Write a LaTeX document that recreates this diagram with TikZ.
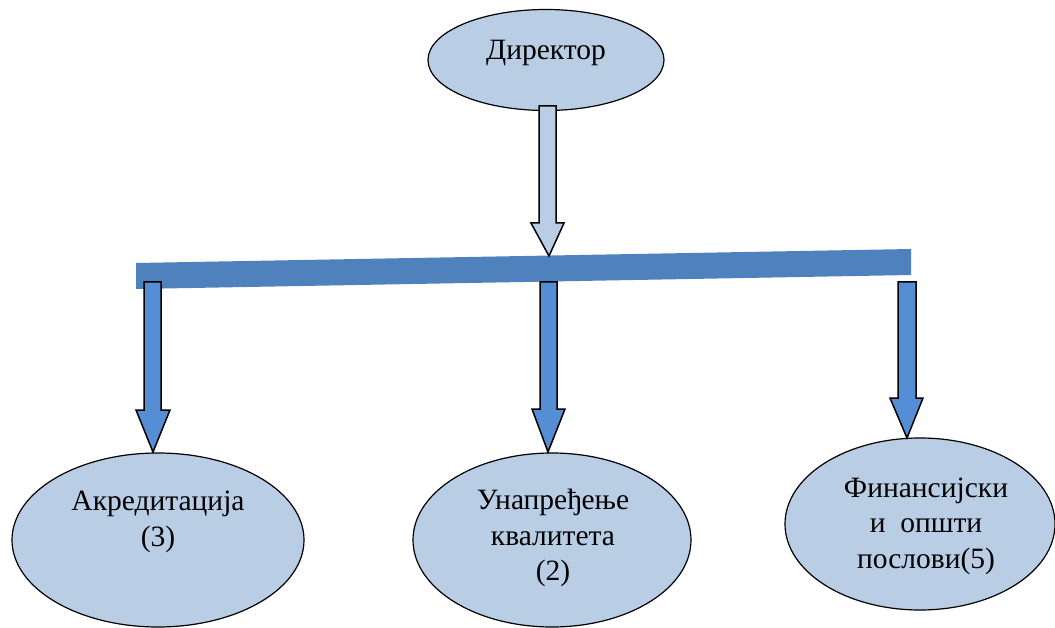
\documentclass[tikz,border=0pt]{standalone}
\usepackage{fontspec}
\setmainfont{Liberation Serif}
\usetikzlibrary{shapes.geometric}
\definecolor{ellfill}{HTML}{B9CDE5}
\definecolor{barblue}{HTML}{4F81BD}
\definecolor{arrblue}{HTML}{558ED5}
\tikzset{
  unit/.style={ellipse, draw=black, line width=1.2pt, fill=ellfill, inner sep=0pt},
  lbl/.style={align=center, inner sep=0pt, font=\fontsize{29.5}{35.5}\selectfont},
  grayarrow/.style={draw=black, line width=1.5pt, fill=ellfill, line join=miter},
  bluearrow/.style={draw=black, line width=1.5pt, fill=arrblue, line join=miter},
}
\begin{document}
\begin{tikzpicture}[x=1pt,y=-1pt]
\useasboundingbox (0,0) rectangle (1055,628);
% ellipses
\node[unit, minimum width=236pt, minimum height=101pt] (dir) at (546,60) {};
\node[lbl] (dirt) at (546,53) {Директор};
\node[unit, minimum width=292pt, minimum height=174pt] (akr) at (158,540) {};
\node[lbl] (akrt) at (158,522) {Акредитација\\(3)};
\node[unit, minimum width=278pt, minimum height=174pt] (unq) at (552,540) {};
\node[lbl] (unqt) at (553,538) {Унапређење\\квалитета\\(2)};
\node[unit, minimum width=270pt, minimum height=172pt] (fin) at (920,524) {};
\node[lbl] (fint) at (926,526) {Финансијски\\и\ \ општи\\послови(5)};
% bar
\fill[barblue] (136,263) -- (911,249) -- (911,275) -- (136,289) -- cycle;
% gray arrow from director
\draw[grayarrow] (539,106) -- (556,106) -- (556,223) -- (564,223) -- (549,256)
  -- (531,223) -- (539,223) -- cycle;
% blue arrows
\draw[bluearrow] (144,282) -- (161,282) -- (161,410) -- (170,410) -- (153,452)
  -- (136,410) -- (144,410) -- cycle;
\draw[bluearrow] (540,282) -- (557,282) -- (557,409) -- (565,409) -- (548,452)
  -- (532,409) -- (540,409) -- cycle;
\draw[bluearrow] (898,282) -- (916,282) -- (916,398) -- (923,398) -- (907,438)
  -- (890,398) -- (898,398) -- cycle;
\end{tikzpicture}
\end{document}
